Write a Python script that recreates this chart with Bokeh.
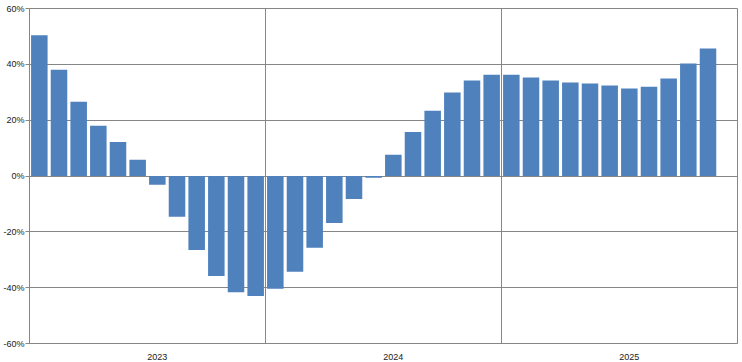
from bokeh.plotting import figure
from bokeh.models import Range1d, FixedTicker, PrintfTickFormatter, CustomJSTickFormatter, ColumnDataSource
from bokeh.embed import file_html
from bokeh.resources import INLINE

# Monthly values (%), 35 months starting with the first month of the 2023 block
values = [50.4, 38.1, 26.6, 18.0, 12.2, 5.8, -3.1, -14.6, -26.5, -35.8, -41.6, -43.0,
          -40.4, -34.3, -25.7, -16.8, -8.2, -0.6, 7.6, 15.8, 23.4, 29.9, 34.2, 36.3,
          36.3, 35.3, 34.2, 33.5, 33.1, 32.4, 31.3, 32.0, 34.9, 40.3, 45.7]
year_labels = ["2023", "2024", "2025"]
months_per_year = 12
y_ticks = [-60, -40, -20, 0, 20, 40, 60]

n_slots = months_per_year * len(year_labels)
xs = [i + 0.5 for i in range(len(values))]
src = ColumnDataSource(dict(x=xs, top=values, bottom=[0] * len(values)))

GRAY = "#868686"
FONT = "Liberation Sans"

p = figure(width=742, height=362, output_backend="svg", toolbar_location=None,
           x_range=Range1d(0, n_slots), y_range=Range1d(y_ticks[0], y_ticks[-1]),
           min_border_left=29, min_border_right=5, min_border_top=8, min_border_bottom=19)
p.vbar(x="x", top="top", bottom="bottom", width=0.84, source=src,
       fill_color="#4F81BD", line_color=None)

p.outline_line_color = GRAY
p.background_fill_color = "white"
p.border_fill_color = "white"

# Y axis
p.yaxis.ticker = FixedTicker(ticks=y_ticks)
p.yaxis.formatter = PrintfTickFormatter(format="%d%%")
p.yaxis.axis_line_color = GRAY
p.yaxis.major_tick_line_color = GRAY
p.yaxis.major_tick_out = 4
p.yaxis.major_tick_in = 0
p.yaxis.minor_tick_line_color = None
p.yaxis.major_label_standoff = 1
p.yaxis.major_label_text_font = FONT
p.yaxis.major_label_text_font_size = "9px"
p.yaxis.major_label_text_color = "#1a1a1a"

# X axis
label_ticks = [i * months_per_year + 6.5 for i in range(len(year_labels))]
p.xaxis.ticker = FixedTicker(ticks=label_ticks)
p.xaxis.formatter = CustomJSTickFormatter(args=dict(labels=year_labels, n=months_per_year),
                                          code="return labels[Math.round((tick - 6.5) / n)] || '';")
p.xaxis.axis_line_color = GRAY
p.xaxis.major_tick_line_color = None
p.xaxis.minor_tick_line_color = None
p.xaxis.major_label_standoff = 4
p.xaxis.major_label_text_font = FONT
p.xaxis.major_label_text_font_size = "9px"
p.xaxis.major_label_text_color = "#1a1a1a"

# Grids
p.ygrid.ticker = FixedTicker(ticks=y_ticks)
p.ygrid.grid_line_color = GRAY
p.xgrid.ticker = FixedTicker(ticks=[months_per_year * i for i in range(1, len(year_labels) + 1)])
p.xgrid.grid_line_color = GRAY

open("out.html", "w").write(file_html(p, INLINE))
